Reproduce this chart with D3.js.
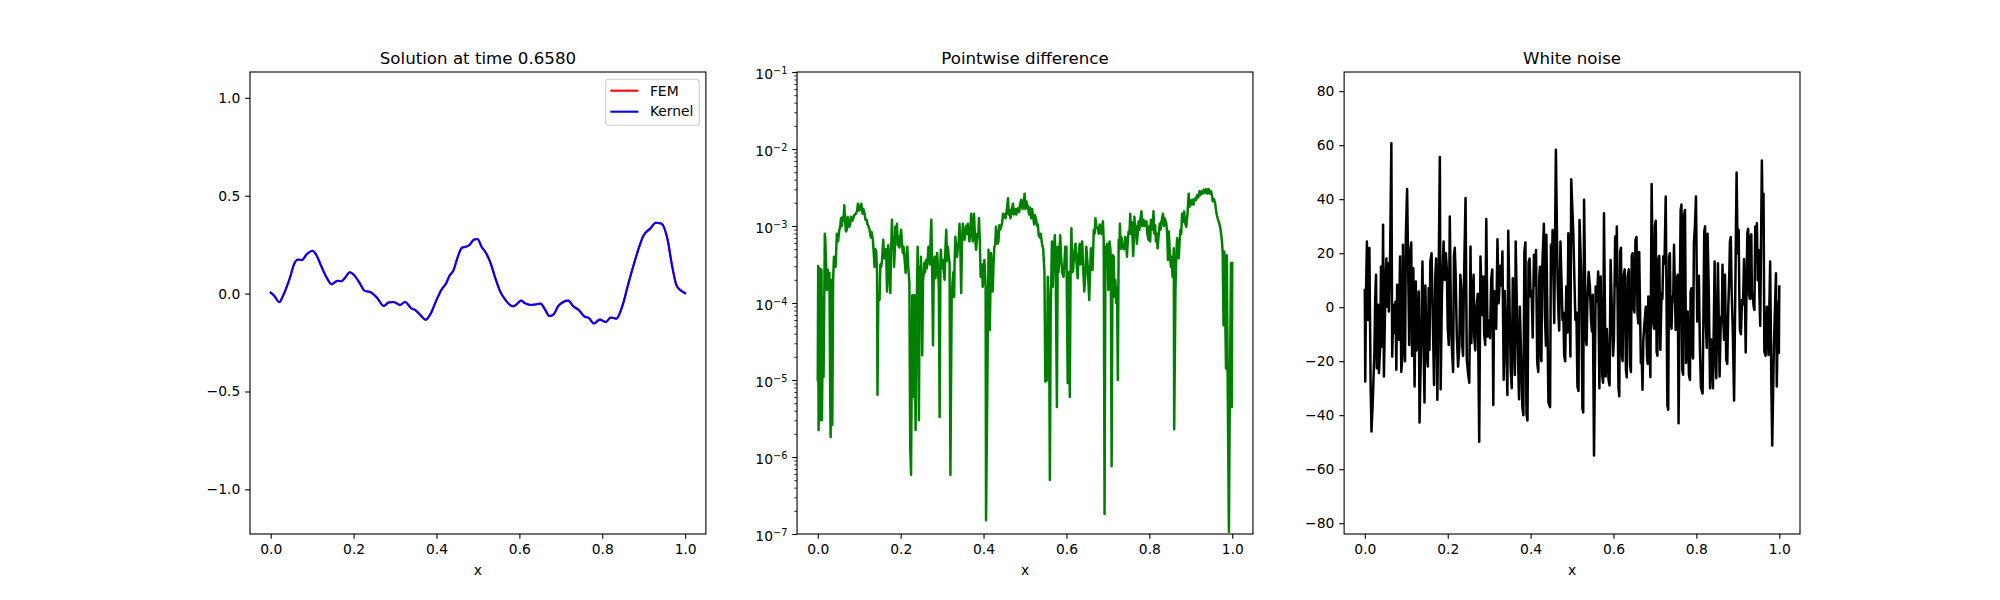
<!DOCTYPE html>
<html><head><meta charset="utf-8">
<script src="https://cdn.jsdelivr.net/npm/d3@7/dist/d3.min.js"></script>
<style>
html,body{margin:0;padding:0;background:#fff}
svg{display:block}
text{font-family:"DejaVu Sans",sans-serif;fill:#000}
</style></head><body><svg id="fig" width="2000" height="600"></svg>
<script>
const titles = ["Solution at time 0.6580", "Pointwise difference", "White noise"];
const xTicks = [0, 0.2, 0.4, 0.6, 0.8, 1.0];
const solutionTicks = [-1.0, -0.5, 0, 0.5, 1.0];
const noiseTicks = [-80, -60, -40, -20, 0, 20, 40, 60, 80];
const diffExponents = [-7, -6, -5, -4, -3, -2, -1];
const legendLabels = ["FEM", "Kernel"];

const solutionX = [0,.008,.021,.029,.037,.047,.056,.065,.075,.087,.101,.109,.121,.135,.147,.161,.171,.179,.191,.201,.214,.227,.241,.256,.273,.284,.296,.312,.324,.340,.348,.360,.374,.388,.399,.412,.423,.432,.441,.450,.461,.469,.479,.491,.499,.509,.519,.531,.541,.553,.568,.585,.595,.605,.613,.629,.641,.651,.662,.672,.682,.694,.706,.718,.730,.744,.756,.768,.780,.794,.809,.820,.834,.849,.863,.879,.889,.899,.916,.929,.943,.957,.969,.979,.989,1];
const kernelY = [.005,-.010,-.044,-.014,.026,.085,.148,.173,.172,.201,.219,.201,.145,.082,.048,.065,.063,.080,.109,.095,.056,.014,.007,-.020,-.063,-.046,-.043,-.058,-.043,-.077,-.083,-.107,-.133,-.094,-.037,.020,.051,.094,.119,.179,.233,.238,.247,.276,.279,.238,.209,.153,.085,.014,-.037,-.065,-.051,-.036,-.049,-.058,-.054,-.051,-.082,-.114,-.107,-.063,-.043,-.036,-.065,-.085,-.116,-.126,-.153,-.133,-.145,-.122,-.128,-.060,.051,.170,.238,.294,.332,.362,.357,.281,.136,.043,.017,.002];
const femY = [.005,-.010,-.043,-.014,.026,.085,.149,.174,.171,.201,.219,.201,.145,.082,.048,.065,.063,.080,.109,.095,.056,.014,.007,-.020,-.063,-.046,-.043,-.058,-.043,-.077,-.083,-.107,-.133,-.094,-.037,.020,.051,.094,.119,.179,.234,.239,.248,.276,.279,.238,.209,.153,.085,.014,-.037,-.065,-.051,-.036,-.049,-.058,-.054,-.051,-.082,-.114,-.107,-.063,-.043,-.036,-.065,-.085,-.115,-.125,-.153,-.133,-.145,-.122,-.128,-.060,.051,.170,.239,.295,.334,.362,.358,.281,.136,.043,.017,.002];

const diffX = [0,.001,.002,.003,.004,.006,.007,.009,.010,.013,.014,.017,.018,.022,.024,.028,.030,.031,.033,.035,.037,.039,.043,.046,.052,.056,.060,.064,.068,.072,.076,.080,.088,.097,.105,.113,.118,.125,.133,.137,.141,.144,.146,.149,.153,.158,.163,.167,.170,.175,.179,.184,.187,.191,.195,.201,.207,.212,.216,.221,.223,.225,.228,.230,.233,.236,.239,.241,.244,.246,.249,.252,.254,.257,.261,.267,.274,.276,.278,.282,.284,.288,.292,.294,.297,.302,.306,.310,.314,.318,.320,.323,.329,.332,.338,.342,.346,.350,.354,.362,.366,.370,.377,.382,.389,.393,.398,.402,.405,.406,.409,.412,.415,.418,.422,.426,.430,.434,.438,.447,.459,.463,.471,.483,.491,.499,.507,.519,.527,.533,.541,.547,.549,.553,.555,.558,.560,.562,.565,.567,.572,.577,.579,.585,.590,.593,.597,.600,.603,.608,.612,.616,.622,.627,.632,.638,.643,.648,.655,.659,.663,.666,.670,.675,.682,.688,.692,.694,.698,.701,.704,.707,.709,.712,.716,.720,.724,.726,.729,.735,.742,.746,.750,.754,.761,.764,.770,.774,.781,.786,.793,.798,.804,.810,.814,.820,.825,.833,.841,.845,.847,.852,.856,.859,.860,.863,.867,.871,.875,.879,.884,.889,.895,.900,.911,.921,.931,.943,.951,.959,.963,.969,.975,.979,.981,.985,.987,.989,.992,.994,.997,.999,1];
const diffLog10 = [-5.00,-3.52,-5.65,-3.55,-5.43,-3.56,-5.52,-3.57,-5.52,-3.92,-4.96,-3.10,-3.16,-3.83,-3.57,-3.61,-5.26,-5.74,-3.70,-5.58,-3.70,-3.40,-3.53,-3.10,-3.05,-2.90,-2.88,-2.73,-3.07,-2.88,-3.01,-2.88,-2.86,-2.71,-2.71,-2.84,-2.92,-3.05,-3.18,-3.53,-3.33,-5.19,-3.92,-3.96,-3.53,-3.18,-3.40,-3.85,-3.25,-3.87,-2.92,-3.53,-3.01,-2.97,-3.14,-3.05,-3.27,-3.61,-3.27,-3.74,-5.87,-6.23,-3.90,-5.22,-3.90,-5.65,-3.92,-3.27,-5.52,-3.53,-3.40,-4.68,-3.70,-3.48,-3.44,-3.27,-2.92,-3.53,-4.55,-3.40,-3.68,-3.35,-3.79,-5.48,-3.31,-3.44,-3.70,-3.05,-3.27,-3.48,-6.23,-3.96,-3.92,-3.14,-3.27,-2.97,-3.87,-2.97,-3.18,-2.97,-3.20,-2.84,-2.84,-3.31,-2.90,-3.66,-3.79,-3.44,-3.79,-6.82,-5.17,-3.31,-4.35,-3.35,-3.85,-3.27,-3.01,-3.23,-2.99,-2.84,-2.64,-2.79,-2.71,-2.77,-2.66,-2.58,-2.75,-2.84,-2.92,-3.12,-3.23,-3.61,-5.02,-5.00,-3.66,-4.13,-6.30,-4.13,-3.20,-3.79,-3.12,-5.35,-3.27,-3.12,-3.61,-3.66,-3.27,-3.27,-5.04,-5.22,-3.03,-3.59,-3.23,-3.68,-3.23,-3.20,-3.85,-3.27,-3.96,-3.29,-3.57,-3.05,-2.90,-3.03,-3.01,-2.94,-6.74,-3.27,-3.23,-3.83,-3.20,-3.48,-6.12,-3.38,-3.92,-4.00,-5.00,-3.18,-2.97,-3.23,-3.14,-3.40,-3.07,-2.84,-3.39,-2.88,-3.23,-2.94,-2.81,-2.92,-2.94,-3.18,-2.92,-2.81,-2.99,-3.29,-2.97,-2.84,-2.97,-3.44,-3.07,-3.53,-3.66,-3.29,-5.64,-3.83,-3.16,-3.42,-3.05,-2.84,-2.81,-3.01,-2.58,-2.67,-2.64,-2.55,-2.53,-2.52,-2.60,-2.71,-2.86,-2.97,-3.18,-4.29,-3.33,-4.85,-3.38,-5.00,-6.97,-5.37,-3.48,-5.35,-3.48];
// finer wiggles of the green band, read by eye between the larger features
const diffDetail = [[.020,-3.50],[.026,-3.75],[.049,-3.20],[.054,-3.02],[.058,-3.00],[.062,-2.93],[.066,-2.95],[.070,-3.05],[.074,-2.96],[.078,-2.98],[.084,-2.93],[.092,-2.84],[.095,-2.80],[.100,-2.80],[.103,-2.77],[.108,-2.84],[.110,-2.78],[.115,-2.92],[.120,-2.98],[.122,-3.00],[.128,-3.15],[.130,-3.08],[.135,-3.35],[.139,-3.30],[.143,-3.60],[.151,-3.50],[.155,-3.45],[.160,-3.42],[.165,-3.30],[.169,-3.60],[.172,-3.40],[.177,-3.30],[.181,-3.30],[.183,-3.15],[.186,-3.30],[.189,-3.20],[.193,-3.25],[.197,-3.28],[.199,-3.15],[.203,-3.20],[.205,-3.35],[.209,-3.40],[.214,-3.45],[.218,-3.50],[.243,-3.90],[.248,-3.70],[.251,-3.90],[.256,-3.60],[.259,-3.60],[.263,-3.55],[.265,-3.45],[.269,-3.40],[.271,-3.50],[.272,-3.20],[.280,-3.50],[.286,-3.50],[.290,-3.55],[.296,-3.45],[.299,-3.55],[.300,-3.50],[.304,-3.60],[.308,-3.30],[.312,-3.45],[.316,-3.40],[.325,-3.75],[.327,-3.60],[.330,-3.50],[.334,-3.30],[.336,-3.40],[.340,-3.20],[.344,-3.30],[.348,-3.20],[.352,-3.10],[.356,-3.10],[.358,-3.00],[.360,-3.10],[.364,-3.10],[.368,-3.10],[.372,-3.05],[.374,-3.20],[.379,-3.10],[.385,-3.10],[.387,-3.15],[.391,-3.20],[.396,-3.50],[.400,-3.60],[.420,-3.60],[.424,-3.50],[.428,-3.25],[.432,-3.10],[.436,-3.20],[.440,-3.05],[.443,-3.00],[.445,-2.95],[.450,-2.85],[.453,-2.90],[.456,-2.80],[.461,-2.85],[.465,-2.90],[.468,-2.80],[.473,-2.85],[.476,-2.78],[.479,-2.85],[.481,-2.78],[.486,-2.82],[.488,-2.72],[.494,-2.78],[.497,-2.70],[.501,-2.78],[.503,-2.68],[.510,-2.85],[.512,-2.76],[.515,-2.90],[.517,-2.78],[.522,-2.98],[.524,-2.86],[.529,-3.00],[.531,-2.98],[.536,-3.15],[.538,-3.10],[.544,-3.30],[.569,-3.40],[.570,-3.30],[.574,-3.50],[.581,-3.60],[.583,-3.35],[.587,-3.40],[.595,-3.50],[.598,-3.40],[.606,-3.60],[.610,-3.60],[.614,-3.60],[.618,-3.40],[.620,-3.30],[.624,-3.45],[.629,-3.40],[.634,-3.50],[.640,-3.50],[.646,-3.60],[.651,-3.50],[.657,-3.60],[.661,-3.40],[.668,-3.10],[.672,-3.00],[.678,-3.10],[.680,-2.98],[.684,-3.10],[.686,-3.02],[.690,-3.20],[.696,-3.50],[.700,-3.50],[.703,-3.50],[.706,-3.30],[.711,-3.60],[.714,-3.40],[.718,-3.70],[.722,-3.80],[.728,-3.30],[.731,-3.30],[.733,-3.15],[.738,-3.30],[.740,-3.30],[.744,-3.20],[.748,-3.20],[.752,-3.10],[.756,-3.10],[.758,-2.95],[.763,-3.15],[.766,-3.10],[.768,-3.00],[.772,-3.10],[.776,-3.05],[.778,-2.92],[.783,-3.00],[.788,-3.00],[.790,-2.95],[.795,-3.10],[.800,-3.00],[.802,-3.20],[.806,-3.00],[.808,-3.05],[.812,-3.10],[.816,-3.20],[.818,-3.10],[.822,-3.15],[.827,-3.05],[.829,-2.95],[.835,-3.00],[.837,-2.90],[.843,-3.10],[.849,-3.30],[.854,-3.40],[.858,-3.50],[.865,-3.40],[.869,-3.30],[.873,-3.20],[.877,-3.10],[.881,-2.95],[.886,-2.95],[.892,-2.85],[.897,-2.75],[.902,-2.72],[.904,-2.66],[.907,-2.72],[.909,-2.65],[.913,-2.66],[.915,-2.60],[.918,-2.63],[.923,-2.60],[.926,-2.55],[.929,-2.58],[.934,-2.57],[.937,-2.52],[.940,-2.58],[.946,-2.58],[.949,-2.55],[.953,-2.68],[.956,-2.65],[.961,-2.80],[.966,-2.92],[.972,-3.05],[.977,-3.35]];

const noiseX = [0,.001,.003,.005,.008,.011,.014,.016,.019,.023,.025,.029,.032,.034,.037,.039,.042,.044,.046,.050,.054,.055,.058,.061,.064,.066,.069,.072,.076,.078,.082,.085,.090,.092,.095,.099,.102,.107,.109,.114,.117,.120,.123,.127,.130,.132,.136,.139,.141,.144,.148,.150,.154,.156,.158,.164,.167,.170,.175,.181,.183,.186,.190,.193,.198,.200,.205,.208,.211,.215,.219,.222,.225,.228,.233,.235,.239,.243,.246,.249,.255,.257,.260,.264,.269,.276,.279,.282,.286,.288,.293,.296,.302,.305,.310,.314,.320,.323,.327,.332,.335,.339,.344,.346,.352,.357,.362,.364,.368,.372,.374,.380,.385,.390,.395,.400,.405,.408,.413,.416,.421,.424,.428,.432,.437,.438,.443,.449,.453,.457,.461,.465,.469,.472,.477,.481,.486,.489,.491,.496,.498,.503,.508,.513,.518,.522,.525,.529,.533,.537,.543,.546,.550,.553,.557,.563,.566,.569,.573,.577,.581,.584,.588,.593,.597,.601,.604,.608,.612,.616,.620,.624,.630,.634,.640,.644,.648,.653,.658,.662,.666,.670,.674,.678,.681,.684,.689,.692,.696,.700,.704,.708,.713,.716,.720,.726,.730,.734,.738,.742,.746,.750,.753,.757,.762,.766,.770,.775,.779,.782,.786,.790,.794,.799,.802,.806,.811,.819,.823,.827,.833,.837,.840,.844,.848,.852,.856,.859,.863,.867,.869,.872,.877,.881,.885,.891,.897,.902,.905,.910,.915,.919,.923,.927,.931,.934,.938,.942,.946,.950,.954,.958,.962,.964,.970,.974,.978,.981,.983,.987,.992,.994,.997,.999,1];
const noiseY = [6.4,-27.5,6.4,24.3,-4.7,21.9,-29.4,-46.0,-35.6,-17.0,3.3,-22.6,.9,-24.4,-14.6,15.1,-14.6,30.5,-25.7,10.7,.2,16.3,-1.6,20.0,60.7,-18.3,.9,-9.6,-23.2,8.3,-12.1,18.8,-19.5,23.1,-14.6,26.8,43.8,-14.0,19.4,-18.0,14.4,-29.4,9.5,-12.1,5.8,-42.7,-10.9,16.9,-7.2,-35.3,-8.4,-18.9,7.0,-15.8,16.9,-4.7,-28.8,11.6,-34.3,55.6,-30.4,5.2,24.3,10.1,13.8,-7.2,33.6,-7.2,-18.0,19.0,12.6,-10.9,-22.0,-14.6,5.8,-14.0,7.7,40.4,-19.5,-24.2,22.5,-13.3,4.0,-10.9,-.4,-49.8,18.8,2.7,11.4,-10.2,32.7,-10.9,-11.5,10.7,-36.2,-1.0,25.2,1.5,15.3,20.6,-26.9,-2.2,-32.5,28.3,-23.2,10.7,-25.1,24.3,-9.6,-34.1,.2,-36.8,20.6,-39.6,16.5,4.0,-11.2,19.4,21.2,-20.5,11.4,-17.0,14.4,30.9,-14.3,26.8,-35.3,23.1,28.6,-5.9,58.3,10.1,-8.6,24.3,-4.7,-18.0,7.7,-9.4,27.4,-18.3,47.4,27.4,-4.7,-29.4,32.3,12.6,-37.4,39.8,-11.5,2.1,8.0,-5.3,4.6,-54.9,7.7,13.2,-30.0,11.4,-25.7,34.8,-25.7,-8.1,-26.9,17.5,-7.2,-12.1,26.2,29.9,-30.0,20.4,-17.0,11.4,-23.2,11.4,-21.4,18.8,.2,24.9,-2.8,20.4,-20.7,-30.6,-7.2,.2,-18.9,4.0,-25.9,45.6,-5.9,30.1,-16.4,17.5,-15.8,5.2,18.8,41.0,-36.4,18.5,-5.3,4.0,23.1,-8.4,10.7,-43.0,36.0,-23.2,34.2,-20.7,-1.6,-25.1,5.8,-17.0,23.7,41.0,-5.3,11.6,-29.8,28.0,-7.2,27.2,-30.0,-14.6,-30.0,16.9,-26.3,16.3,-25.7,-3.5,15.7,-12.1,12.0,-19.3,.2,24.3,6.4,-34.6,49.9,28.6,-8.4,2.7,17.8,-16.8,27.7,4.6,26.2,3.3,.5,29.9,31.1,21.2,-6.9,54.3,42.0,-16.4,.2,-17.7,16.9,-30.6,-51.2,-14.6,12.6,-29.4,2.1,-17.0,7.7];
// finer zigzags of the noise trace, read by eye between the larger features
const noiseDetail = [[.027,12],[.052,18],[.074,2],[.088,-24],[.097,-20],[.112,24],[.125,-16],[.146,8],[.152,-22],[.161,20],[.172,18],[.1955,20],[.2025,-14],[.213,-24],[.217,22],[.2305,12],[.237,-18],[.252,-28],[.2625,12],[.2665,-16],[.2725,5],[.284,-3],[.2905,-14],[.299,-5],[.3075,14],[.312,6],[.317,-8],[.3295,8],[.3375,6],[.3545,-30],[.3825,-40],[.3875,24],[.3925,-42],[.3975,18],[.4025,6],[.4105,8],[.4185,-24],[.4225,15],[.426,-20],[.4345,-3],[.447,-37],[.451,12],[.4675,-4],[.479,-2],[.4835,-20],[.4935,5],[.5105,-2],[.5155,-31],[.527,-39],[.535,-14],[.540,13],[.548,-9],[.560,2],[.575,-28],[.5905,-29],[.599,-18],[.606,8],[.614,-33],[.618,22],[.622,-20],[.627,14],[.632,-26],[.637,14],[.642,-24],[.646,20],[.6505,-2],[.6555,26],[.660,-6],[.668,-18],[.672,-12],[.6825,-21],[.698,-8],[.702,32],[.706,-18],[.7105,19],[.718,3],[.723,16],[.732,-38],[.736,20],[.740,-8],[.744,2],[.755,12],[.764,38],[.768,-25],[.7725,36],[.777,-10],[.7845,-27],[.788,7],[.792,-19],[.7965,30],[.8085,-15],[.815,-32],[.821,30],[.825,-15],[.830,5],[.8355,-12],[.8385,-20],[.846,-18],[.8615,-4],[.865,-6],[.8745,-21],[.879,10],[.883,26],[.888,-10],[.8995,20],[.9035,6],[.9075,-10],[.9125,1],[.917,5],[.921,8],[.925,29],[.929,3],[.9325,27],[.936,5],[.940,-1],[.944,18],[.948,10],[.952,5],[.960,30],[.967,-18],[.972,-8]];

const W = 1550 / 3.4, TOP = 72, BOTTOM = 534;
const LEFTS = [250, 250 + 1.2 * W, 250 + 2.4 * W];
const LW = 2.08, LW_DENSE = 2.5, FS = 13.89, TICK = 4.86, MINOR = 2.78;
const svg = d3.select("#fig");
const zip = (a, b) => a.map((v, i) => [v, b[i]]);
const byX = pts => d3.sort(pts, d => d[0]);
const fmtMinus = s => String(s).replace("-", "\u2212");

function panel(i, yAxisFn) {
  const left = LEFTS[i];
  const x = d3.scaleLinear().domain([-0.05, 1.05]).range([0, W]);
  const g = svg.append("g").attr("transform", `translate(${left},${TOP})`);
  const h = BOTTOM - TOP;
  g.append("clipPath").attr("id", "c" + i).append("rect").attr("width", W).attr("height", h);
  const plot = g.append("g").attr("clip-path", `url(#c${i})`);
  const xa = d3.axisBottom(x).tickValues(xTicks).tickFormat(d3.format(".1f")).tickSizeOuter(0).tickSize(TICK).tickPadding(4.86);
  const gx = g.append("g").attr("transform", `translate(0,${h})`).call(xa);
  const gy = g.append("g");
  yAxisFn(gy);
  for (const a of [gx, gy]) {
    a.selectAll(".domain").remove();
    a.selectAll("text").attr("font-size", FS).attr("font-family", '"DejaVu Sans"').attr("fill", "#000");
    a.selectAll("line").attr("stroke", "#000").attr("stroke-width", 1.11);
  }
  g.append("rect").attr("width", W).attr("height", h).attr("fill", "none")
    .attr("stroke", "#000").attr("stroke-width", 1.11);
  g.append("text").attr("x", W / 2).attr("y", -8.33).attr("text-anchor", "middle").attr("font-size", 16.67).text(titles[i]);
  g.append("text").attr("x", W / 2).attr("y", h + 40.5).attr("text-anchor", "middle").attr("font-size", FS).text("x");
  return { x, plot, g, gy };
}
function draw(p, yScale, pts, color, curve, width) {
  const line = d3.line().x(d => p.x(d[0])).y(d => yScale(d[1])).curve(curve || d3.curveLinear);
  p.plot.append("path").attr("d", line(pts)).attr("fill", "none").attr("stroke", color)
    .attr("stroke-width", width || LW).attr("stroke-linejoin", "round").attr("stroke-linecap", "square");
}
const H = BOTTOM - TOP;

// Panel 1
const y1 = d3.scaleLinear().domain([-1.228, 1.132]).range([H, 0]);
const p1 = panel(0, g => g.call(d3.axisLeft(y1).tickValues(solutionTicks).tickFormat(d => fmtMinus(d3.format(".1f")(d))).tickSize(TICK).tickPadding(4.86)));
draw(p1, y1, zip(solutionX, femY), "#ff0000", d3.curveMonotoneX);
draw(p1, y1, zip(solutionX, kernelY), "#0000ff", d3.curveMonotoneX);
const legendColors = ["#ff0000", "#0000ff"];
const lg = p1.g.append("g").attr("transform", `translate(${W - 6.9 - 93.6},7)`);
lg.append("rect").attr("x", 0.3).attr("y", 0.3).attr("width", 93.6).attr("height", 46).attr("rx", 2.8)
  .attr("fill", "#fff").attr("fill-opacity", .8).attr("stroke", "#ccc").attr("stroke-width", 1.11);
legendLabels.forEach((t, k) => {
  const cy = 11.7 + k * 21;
  lg.append("line").attr("x1", 5).attr("x2", 33).attr("y1", cy).attr("y2", cy).attr("stroke", legendColors[k]).attr("stroke-width", LW);
  lg.append("text").attr("x", 44.5).attr("y", cy + 5 - k).attr("font-size", FS).text(t);
});

// Panel 2
const y2 = d3.scaleLog().domain([1e-7, 1e-1]).range([H, 0]);
const p2 = panel(1, g => {
  const major = diffExponents.map(e => Math.pow(10, e));
  const minor = [];
  diffExponents.slice(0, -1).forEach(e => [2,3,4,5,6,7,8,9].forEach(m => minor.push(m * Math.pow(10, e))));
  g.append("g").attr("class", "minor").call(d3.axisLeft(y2).tickValues(minor).tickFormat("").tickSize(MINOR));
  const gMajor = g.append("g").attr("class", "major").call(d3.axisLeft(y2).tickValues(major).tickFormat("").tickSize(TICK).tickPadding(4.86));
  gMajor.selectAll(".tick text").each(function (d) {
    const t = d3.select(this);
    t.text("").attr("dy", "0.48em");
    t.append("tspan").text("10");
    t.append("tspan").attr("dy", "-5.3").attr("font-size", 9.72).text("\u2212" + Math.abs(Math.round(Math.log10(d))));
  });
});
p2.gy.selectAll(".minor line").attr("stroke-width", 0.83);
draw(p2, y2, byX(zip(diffX, diffLog10).concat(diffDetail)).map(d => [d[0], Math.pow(10, d[1])]), "#008000", null, LW_DENSE);

// Panel 3
const y3 = d3.scaleLinear().domain([-84, 87.1]).range([H, 0]);
const p3 = panel(2, g => g.call(d3.axisLeft(y3).tickValues(noiseTicks).tickFormat(d => fmtMinus(d)).tickSize(TICK).tickPadding(4.86)));
draw(p3, y3, byX(zip(noiseX, noiseY).concat(noiseDetail)), "#000000", null, LW_DENSE);
</script></body></html>
